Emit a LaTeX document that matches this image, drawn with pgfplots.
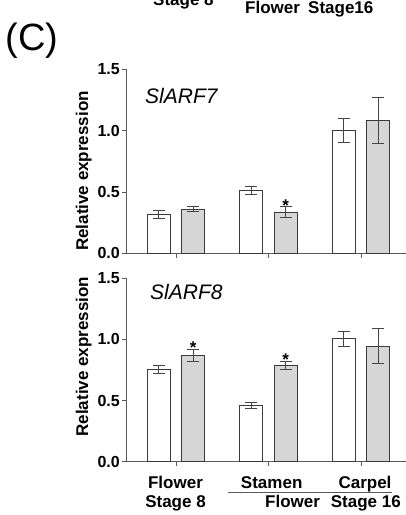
\documentclass[border=0pt]{standalone}
\usepackage{fontspec}
\setmainfont{Liberation Sans}
\usepackage{pgfplots}
\pgfplotsset{compat=1.18}

\definecolor{barfill}{HTML}{D6D6D6}
\definecolor{axgray}{HTML}{5A5A5A}
\definecolor{errgray}{HTML}{454545}
\definecolor{baredge}{HTML}{3A3A3A}

\pgfplotsset{
 myax/.style={
  scale only axis, width=280pt,
  xmin=-0.54, xmax=2.487, ymin=0, ymax=1.5,
  axis lines=left, axis line style={axgray, line width=0.8pt, -},
  ytick={0,0.5,1,1.5}, xtick={0,1,2}, xticklabels={},
  yticklabel style={/pgf/number format/fixed, /pgf/number format/fixed zerofill, /pgf/number format/precision=1, /pgf/number format/assume math mode=true, font=\bfseries\fontsize{16}{16}\selectfont, inner sep=1.5pt},
  tick align=outside, major tick length=4.5pt, tick style={axgray, line width=0.8pt},
  ybar, bar width=23pt,
  clip=false,
 },
 errst/.style={error bars/.cd, y dir=both, y explicit,
   error bar style={errgray, line width=0.8pt},
   error mark options={errgray, rotate=90, mark size=6pt, line width=0.8pt}},
 whitebar/.style={draw=baredge, fill=white, line width=0.8pt, bar shift=-17.3pt, errst},
 graybar/.style={draw=baredge, fill=barfill, line width=0.8pt, bar shift=17.3pt, errst},
}
\tikzset{lab/.style={inner sep=0, font=\bfseries\fontsize{17}{17}\selectfont}}

\begin{document}
\begin{tikzpicture}
\useasboundingbox (0,0) rectangle (406pt,515pt);
\clip (0,0) rectangle (406pt,515pt);

% Top panel: SlARF7
\begin{axis}[myax, height=184pt, at={(126pt,261.7pt)}, anchor=south west]
\addplot[whitebar] coordinates {(0,0.318) +- (0,0.034) (1,0.514) +- (0,0.035) (2,1.003) +- (0,0.100)};
\addplot[graybar] coordinates {(0,0.359) +- (0,0.020) (1,0.337) +- (0,0.046) (2,1.084) +- (0,0.188)};
\node[lab, anchor=base, xshift=17.3pt, yshift=-9pt] at (axis cs:1,0.418) {*};
\end{axis}

% Bottom panel: SlARF8
\begin{axis}[myax, height=183.4pt, at={(126pt,53.3pt)}, anchor=south west]
\addplot[whitebar] coordinates {(0,0.755) +- (0,0.036) (1,0.461) +- (0,0.025) (2,1.006) +- (0,0.061)};
\addplot[graybar] coordinates {(0,0.870) +- (0,0.049) (1,0.788) +- (0,0.031) (2,0.944) +- (0,0.144)};
\node[lab, anchor=base, xshift=17.3pt, yshift=-9pt] at (axis cs:0,0.960) {*};
\node[lab, anchor=base, xshift=17.3pt, yshift=-9pt] at (axis cs:1,0.859) {*};
\end{axis}

% panel letter and cropped header
\node[anchor=base west, inner sep=0, font=\fontsize{38}{38}\selectfont] at (5.5pt,464pt) {(C)};
\node[lab, anchor=base west] at (153pt,509pt) {Stage 8};
\node[lab, anchor=base west] at (245pt,501.7pt) {Flower};
\node[lab, anchor=base west] at (308pt,501.7pt) {Stage16};

% y labels
\node[lab, rotate=90, anchor=base] at (88pt,344pt) {Relative expression};
\node[lab, rotate=90, anchor=base] at (88pt,158.3pt) {Relative expression};

% gene names
\node[anchor=base west, inner sep=0, font=\itshape\fontsize{21}{21}\selectfont] at (145pt,411pt) {SlARF7};
\node[anchor=base west, inner sep=0, font=\itshape\fontsize{21}{21}\selectfont] at (150pt,215pt) {SlARF8};

% x category labels
\node[lab, anchor=base] at (175.5pt,26.7pt) {Flower};
\node[lab, anchor=base] at (175.5pt,7.7pt) {Stage 8};
\node[lab, anchor=base] at (271.7pt,26.7pt) {Stamen};
\node[lab, anchor=base] at (365pt,26.7pt) {Carpel};
\draw[axgray, line width=0.6pt] (228.3pt,22.7pt) -- (391.7pt,22.7pt);
\node[lab, anchor=base west] at (265pt,7.7pt) {Flower};
\node[lab, anchor=base west] at (330.7pt,7.7pt) {Stage 16};
\end{tikzpicture}
\end{document}
